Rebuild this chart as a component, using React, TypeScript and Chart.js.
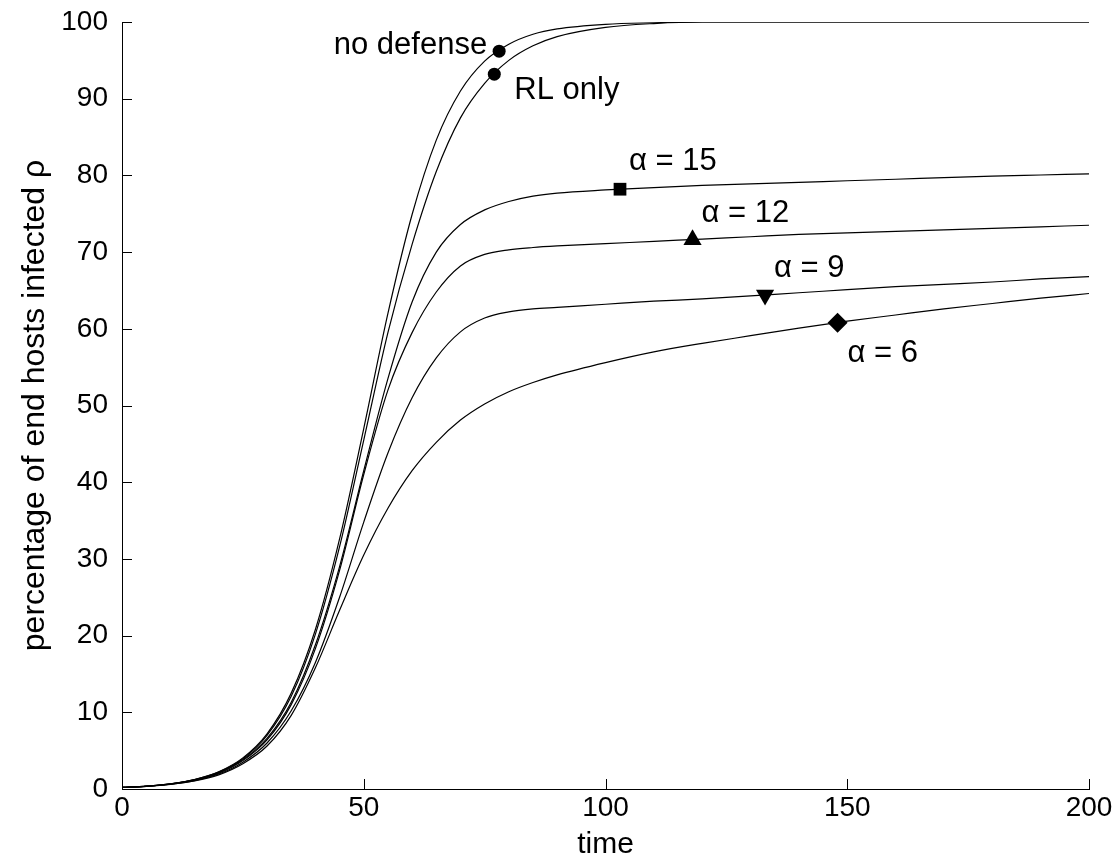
import React, { useEffect, useRef } from "react";
import { Chart, registerables } from "chart.js";

Chart.register(...registerables);

// ---- data ----
const times = [0, 5, 10, 15, 20, 25, 30, 35, 40, 45, 50, 55, 60, 65, 70, 75, 80, 85, 90, 100, 110, 120, 130, 140, 150, 160, 170, 180, 190, 200];

const noDefense = [0.2, 0.37, 0.68, 1.24, 2.25, 4.06, 7.2, 12.5, 20.8, 32.6, 47, 62, 74.9, 84.6, 91, 94.9, 97.1, 98.4, 99.1, 99.7, 99.9, 100, 100, 100, 100, 100, 100, 100, 100, 100];
const rlOnly = [0.2, 0.37, 0.67, 1.22, 2.2, 3.95, 7.0, 12.1, 20.2, 31.6, 45.5, 59.5, 71, 80.5, 87.5, 92, 95, 96.9, 98.1, 99.3, 99.8, 100, 100, 100, 100, 100, 100, 100, 100, 100];
const alpha15 = [0.2, 0.36, 0.65, 1.18, 2.1, 3.8, 6.6, 11.3, 18.8, 29, 41.5, 53.5, 63.5, 70, 73.6, 75.5, 76.6, 77.3, 77.7, 78.1, 78.4, 78.7, 78.9, 79.1, 79.3, 79.5, 79.7, 79.9, 80.05, 80.2];
const alpha12 = [0.2, 0.36, 0.64, 1.16, 2.05, 3.7, 6.4, 11, 18.3, 28.5, 41, 52, 59.5, 64.8, 68.2, 69.7, 70.3, 70.6, 70.8, 71.1, 71.4, 71.7, 72, 72.3, 72.5, 72.7, 72.9, 73.1, 73.3, 73.5];
const alpha9 = [0.2, 0.35, 0.62, 1.1, 1.95, 3.5, 6.0, 10.2, 16.5, 25, 34.8, 43.8, 51, 56.2, 59.6, 61.4, 62.2, 62.6, 62.8, 63.2, 63.6, 63.9, 64.3, 64.7, 65.1, 65.5, 65.8, 66.1, 66.5, 66.8];
const alpha6 = [0.2, 0.34, 0.6, 1.05, 1.85, 3.3, 5.6, 9.6, 15.8, 23.3, 30.5, 36.6, 41.5, 45.2, 48.1, 50.2, 51.8, 53, 54, 55.6, 57, 58.1, 59.1, 60.1, 61, 61.8, 62.6, 63.3, 64, 64.6];

const markerTimes = [78, 77, 103, 118, 133, 148];
const markerValues = [96.2, 93.2, 78.2, 71.6, 64.4, 60.8];
const markerLabels = ["no defense", "RL only", "α = 15", "α = 12", "α = 9", "α = 6"];

const xTitle = "time";
const yTitle = "percentage of end hosts infected ρ";

// ---- styling ----
const markerStyles = [
  { pointStyle: "circle", radius: 6.5, rotation: 0 },
  { pointStyle: "circle", radius: 6.5, rotation: 0 },
  { pointStyle: "rect", radius: 9, rotation: 0 },
  { pointStyle: "triangle", radius: 10.5, rotation: 0 },
  { pointStyle: "triangle", radius: 10.5, rotation: 180 },
  { pointStyle: "rectRot", radius: 10, rotation: 0 },
];
const labelOffsets = [
  { dx: -12, dy: 3, align: "right" },
  { dx: 20, dy: 25, align: "left" },
  { dx: 9, dy: -19, align: "left" },
  { dx: 9, dy: -18, align: "left" },
  { dx: 9, dy: -18, align: "left" },
  { dx: 10, dy: 39, align: "left" },
];
const FONT = '"Liberation Sans", Arial, Helvetica, sans-serif';

const overlayPlugin = {
  id: "overlay",
  afterDatasetsDraw(chart: any) {
    const { ctx, chartArea } = chart;
    const x = chart.scales.x;
    const y = chart.scales.y;
    ctx.save();
    ctx.strokeStyle = "#000";
    ctx.lineWidth = 1;
    x.ticks.forEach((t: any) => {
      const px = Math.round(x.getPixelForValue(t.value)) + 0.5;
      ctx.beginPath();
      ctx.moveTo(px, chartArea.bottom);
      ctx.lineTo(px, chartArea.bottom - 10);
      ctx.stroke();
    });
    y.ticks.forEach((t: any) => {
      const py = Math.round(y.getPixelForValue(t.value)) + 0.5;
      ctx.beginPath();
      ctx.moveTo(chartArea.left, py);
      ctx.lineTo(chartArea.left + 10, py);
      ctx.stroke();
    });
    ctx.fillStyle = "#000";
    ctx.font = `31px ${FONT}`;
    ctx.textBaseline = "alphabetic";
    markerLabels.forEach((txt, i) => {
      const px = x.getPixelForValue(markerTimes[i]);
      const py = y.getPixelForValue(markerValues[i]);
      const o = labelOffsets[i];
      ctx.textAlign = o.align;
      ctx.fillText(txt, px + o.dx, py + o.dy);
    });
    ctx.restore();
  },
};

export default function App() {
  const canvasRef = useRef<HTMLCanvasElement | null>(null);

  useEffect(() => {
    if (!canvasRef.current) return;
    const series = [noDefense, rlOnly, alpha15, alpha12, alpha9, alpha6];
    const lineSets = series.map((vals) => ({
      type: "line" as const,
      data: times.map((t, i) => ({ x: t, y: vals[i] })),
      borderColor: "#000",
      borderWidth: 1.2,
      pointRadius: 0,
      fill: false,
      cubicInterpolationMode: "monotone" as const,
    }));
    const markerSets = markerTimes.map((t, i) => ({
      type: "line" as const,
      data: [{ x: t, y: markerValues[i] }],
      showLine: false,
      pointStyle: markerStyles[i].pointStyle as any,
      pointRadius: markerStyles[i].radius,
      pointRotation: markerStyles[i].rotation,
      pointBackgroundColor: "#000",
      pointBorderColor: "#000",
      pointBorderWidth: 0,
      borderColor: "#000",
    }));

    const transparentGrid = {
      display: true,
      drawOnChartArea: false,
      drawTicks: true,
      color: "rgba(0,0,0,0)",
    };

    const chart = new Chart(canvasRef.current, {
      type: "line",
      data: { datasets: [...lineSets, ...markerSets] as any },
      options: {
        animation: false,
        responsive: true,
        maintainAspectRatio: false,
        layout: { padding: { top: 22, right: 30, left: 0, bottom: 0 } },
        plugins: { legend: { display: false }, tooltip: { enabled: false } },
        scales: {
          x: {
            type: "linear",
            min: 0,
            max: 200,
            ticks: { stepSize: 50, color: "#000", font: { family: FONT, size: 28 }, padding: 0, maxRotation: 0 },
            grid: { ...transparentGrid, tickLength: 2 },
            border: { display: true, color: "#000", width: 1 },
            title: { display: true, text: xTitle, color: "#000", font: { family: FONT, size: 30 }, padding: { top: 0, bottom: -3 } },
            afterFit: (s: any) => { s.height = 71; },
          },
          y: {
            type: "linear",
            min: 0,
            max: 100,
            ticks: { stepSize: 10, color: "#000", font: { family: FONT, size: 28 }, padding: 0 },
            grid: { ...transparentGrid, tickLength: 14 },
            border: { display: true, color: "#000", width: 1 },
            title: { display: true, text: yTitle, color: "#000", font: { family: FONT, size: 32 }, padding: { top: 16, bottom: 0 } },
            afterFit: (s: any) => { s.width = 122; },
          },
        },
      },
      plugins: [overlayPlugin as any],
    });
    return () => chart.destroy();
  }, []);

  return (
    <div style={{ position: "fixed", left: 0, top: 0, width: 1119, height: 860, background: "#fff" }}>
      <canvas ref={canvasRef} />
    </div>
  );
}
